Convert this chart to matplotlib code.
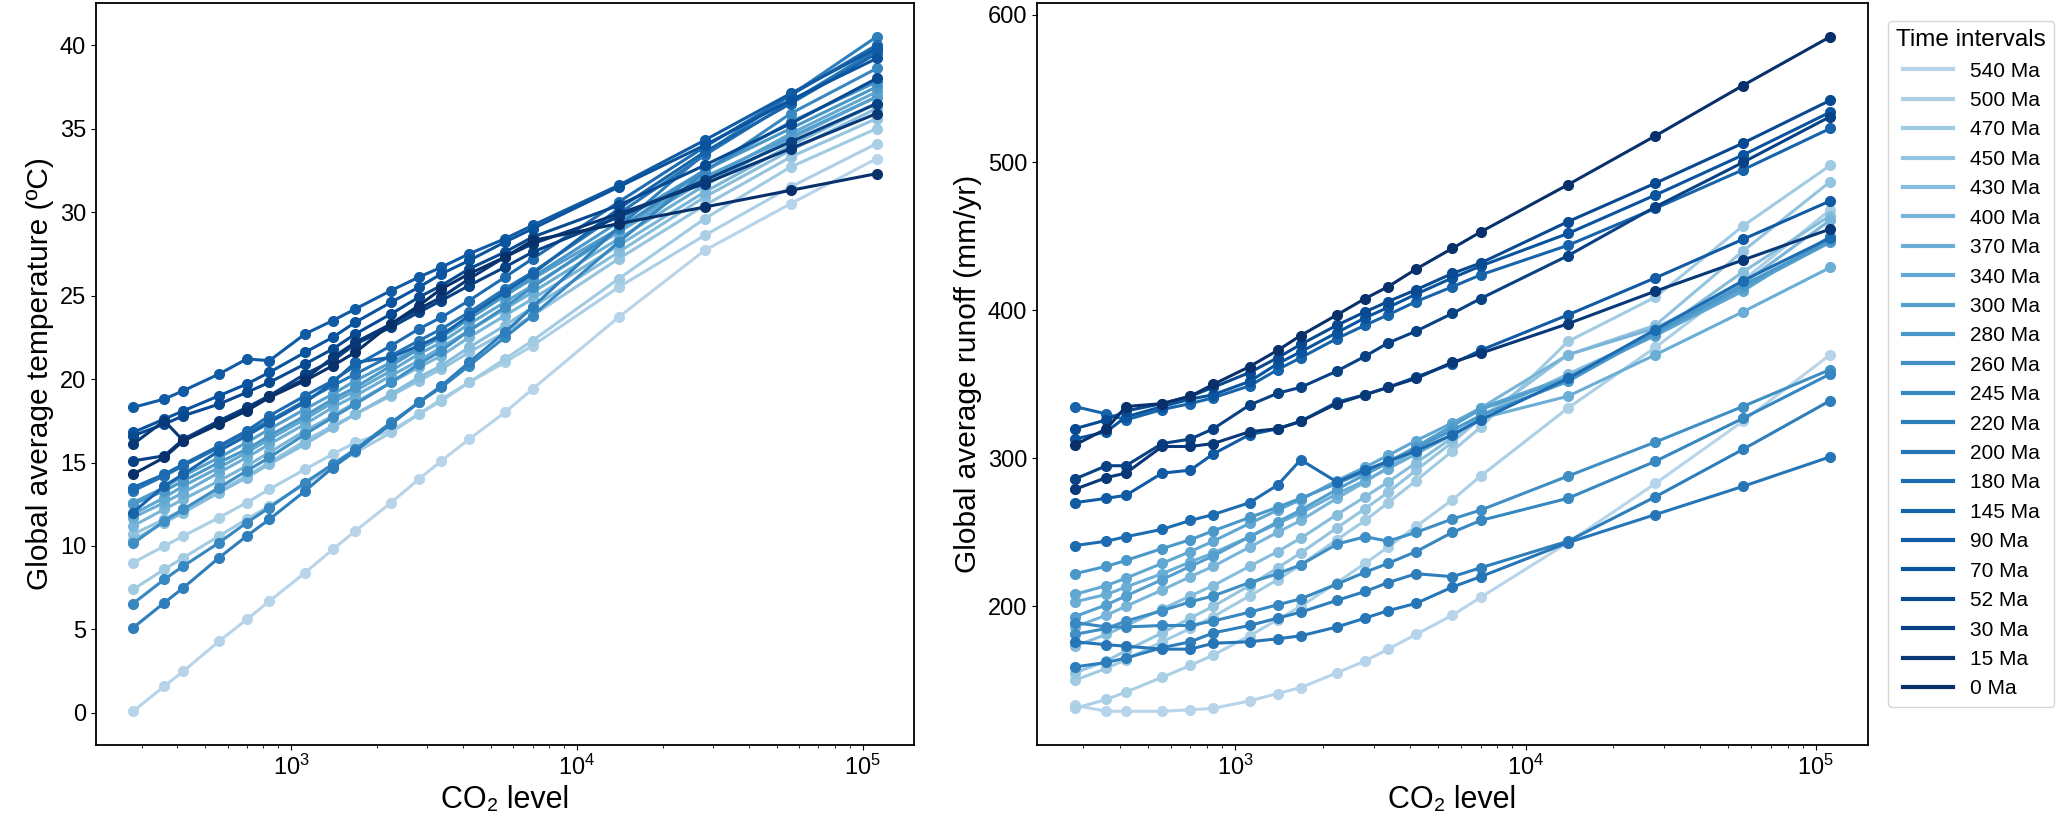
import matplotlib
matplotlib.use("Agg")
import matplotlib.pyplot as plt
from matplotlib.lines import Line2D
import numpy as np

plt.rcParams['font.family'] = ['Liberation Sans', 'DejaVu Sans']

co2 = [280, 360, 420, 560, 700, 840, 1120, 1400, 1680, 2240, 2800, 3360, 4200,
       5600, 7000, 14000, 28000, 56000, 112000]

ages = ["540 Ma", "500 Ma", "470 Ma", "450 Ma", "430 Ma", "400 Ma", "370 Ma", "340 Ma",
        "300 Ma", "280 Ma", "260 Ma", "245 Ma", "220 Ma", "200 Ma", "180 Ma", "145 Ma",
        "90 Ma", "70 Ma", "52 Ma", "30 Ma", "15 Ma", "0 Ma"]

# global average temperature (C), one row per time interval
temp = [
    [0.1, 1.6, 2.5, 4.3, 5.6, 6.7, 8.4, 9.8, 10.9, 12.6, 14.0, 15.1, 16.4, 18.0, 19.4, 23.7, 27.7, 30.5, 33.2],
    [9.0, 10.0, 10.6, 11.7, 12.6, 13.4, 14.6, 15.5, 16.2, 16.9, 17.9, 18.8, 19.8, 21.0, 22.0, 25.5, 28.6, 31.5, 34.1],
    [7.4, 8.6, 9.3, 10.6, 11.6, 12.4, 13.7, 14.8, 15.6, 16.8, 17.9, 18.7, 19.8, 21.2, 22.3, 26.0, 29.6, 32.7, 35.0],
    [10.7, 11.6, 12.2, 13.3, 14.2, 15.0, 16.3, 17.2, 17.9, 19.0, 19.9, 20.6, 21.6, 22.8, 23.8, 27.2, 30.4, 33.3, 35.6],
    [10.35, 11.4, 12.0, 13.2, 14.1, 14.9, 16.1, 17.1, 17.9, 19.1, 20.1, 20.8, 21.9, 23.2, 24.3, 27.6, 30.9, 33.7, 36.2],
    [11.2, 12.2, 12.8, 13.9, 14.8, 15.6, 16.9, 17.8, 18.6, 19.8, 20.7, 21.4, 22.5, 23.8, 24.8, 28.0, 31.2, 34.0, 36.5],
    [11.7, 12.6, 13.2, 14.4, 15.3, 16.1, 17.3, 18.3, 19.0, 20.2, 21.1, 21.9, 22.9, 24.2, 25.2, 28.4, 31.6, 34.4, 36.9],
    [11.9, 12.9, 13.6, 14.7, 15.6, 16.4, 17.6, 18.6, 19.3, 20.5, 21.5, 22.2, 23.3, 24.6, 25.6, 28.8, 31.9, 34.7, 37.2],
    [12.6, 13.5, 14.2, 15.3, 16.2, 17.0, 18.2, 19.1, 19.9, 21.0, 21.9, 22.7, 23.7, 25.0, 26.0, 29.0, 32.1, 34.5, 36.9],
    [12.5, 13.3, 13.9, 15.0, 15.8, 16.6, 17.8, 18.8, 19.5, 20.8, 21.8, 22.5, 23.6, 25.0, 26.1, 29.4, 32.5, 35.0, 37.5],
    [10.15, 11.5, 12.2, 13.5, 14.5, 15.3, 16.7, 17.7, 18.5, 19.8, 20.9, 21.7, 22.9, 24.3, 25.5, 29.0, 32.5, 35.4, 37.8],
    [6.55, 8.0, 8.8, 10.2, 11.4, 12.3, 13.8, 14.9, 15.8, 17.4, 18.6, 19.5, 20.8, 22.5, 23.8, 28.2, 32.4, 35.9, 38.6],
    [5.1, 6.6, 7.5, 9.3, 10.6, 11.6, 13.3, 14.7, 15.7, 17.3, 18.6, 19.6, 21.0, 22.8, 24.3, 29.1, 33.5, 37.0, 40.5],
    [13.3, 14.2, 14.8, 15.9, 16.8, 17.5, 18.7, 19.6, 20.3, 21.4, 22.3, 23.0, 24.0, 25.4, 26.4, 29.9, 33.4, 36.6, 39.7],
    [13.5, 14.3, 14.9, 16.0, 16.9, 17.8, 19.0, 19.9, 20.8, 22.0, 23.0, 23.7, 24.7, 26.1, 27.2, 30.6, 33.9, 37.0, 40.0],
    [12.0, 13.6, 14.3, 15.7, 16.6, 17.4, 18.6, 19.8, 21.0, 21.3, 22.0, 22.6, 23.8, 25.2, 26.3, 30.2, 33.6, 36.5, 39.5],
    [18.3, 18.8, 19.3, 20.3, 21.2, 21.1, 22.7, 23.5, 24.2, 25.3, 26.1, 26.7, 27.5, 28.4, 29.2, 31.6, 34.3, 37.1, 39.8],
    [16.8, 17.6, 18.1, 19.0, 19.7, 20.4, 21.6, 22.5, 23.4, 24.6, 25.5, 26.3, 27.1, 28.2, 29.0, 31.5, 34.0, 36.7, 39.2],
    [16.6, 17.3, 17.8, 18.5, 19.2, 19.8, 20.9, 21.8, 22.7, 23.9, 24.9, 25.6, 26.6, 27.6, 28.5, 30.4, 32.8, 35.3, 38.0],
    [15.1, 15.4, 16.4, 17.5, 18.3, 19.0, 20.3, 21.1, 22.1, 23.1, 24.0, 24.7, 25.6, 26.7, 27.6, 29.7, 31.9, 34.2, 36.5],
    [16.1, 17.5, 16.3, 17.4, 18.2, 19.0, 20.0, 21.3, 22.2, 23.3, 24.2, 24.9, 26.0, 27.3, 28.1, 29.9, 31.7, 33.8, 35.9],
    [14.3, 15.3, 16.3, 17.3, 18.1, 18.9, 19.9, 20.8, 21.6, 23.3, 24.4, 25.4, 26.3, 27.3, 28.3, 29.3, 30.3, 31.3, 32.3],
]

# global average runoff (mm/yr), one row per time interval
runoff = [
    [133, 129, 129, 129, 130, 131, 136, 141, 145, 155, 163, 171, 181, 194, 206, 243, 283, 325, 370],
    [131, 137, 142, 152, 160, 167, 180, 191, 200, 216, 229, 240, 254, 272, 288, 334, 375, 420, 468],
    [150, 158, 164, 176, 185, 193, 207, 218, 228, 245, 258, 270, 285, 305, 321, 379, 409, 457, 498],
    [155, 163, 170, 182, 192, 200, 214, 226, 236, 253, 266, 277, 292, 311, 327, 370, 390, 440, 487],
    [173, 181, 187, 198, 207, 214, 227, 237, 246, 262, 274, 284, 297, 314, 329, 357, 384, 426, 464],
    [186, 194, 200, 211, 220, 227, 240, 250, 258, 273, 284, 294, 306, 322, 334, 370, 388, 418, 461],
    [203, 208, 213, 222, 230, 236, 247, 256, 263, 276, 285, 293, 303, 316, 327, 342, 370, 399, 429],
    [208, 214, 219, 229, 237, 244, 256, 265, 272, 285, 294, 302, 312, 324, 334, 355, 383, 413, 450],
    [193, 201, 207, 218, 227, 234, 247, 257, 265, 279, 289, 297, 308, 322, 333, 354, 384, 415, 446],
    [222, 227, 231, 239, 245, 251, 260, 267, 273, 283, 291, 298, 307, 319, 329, 352, 385, 417, 447],
    [181, 185, 190, 197, 203, 207, 216, 222, 228, 242, 247, 244, 250, 259, 265, 288, 311, 335, 360],
    [189, 186, 186, 187, 187, 190, 196, 201, 205, 215, 223, 229, 237, 250, 258, 273, 298, 327, 357],
    [159, 162, 165, 172, 176, 182, 187, 192, 196, 204, 210, 216, 222, 220, 226, 244, 274, 306, 339],
    [176, 174, 173, 171, 171, 175, 176, 178, 180, 186, 192, 197, 202, 213, 220, 243, 262, 281, 301],
    [241, 244, 247, 252, 258, 262, 270, 282, 299, 284, 292, 298, 305, 316, 326, 354, 387, 420, 449],
    [335, 330, 326, 333, 337, 341, 349, 360, 368, 381, 390, 397, 406, 416, 424, 444, 469, 495, 523],
    [270, 273, 275, 290, 292, 303, 316, 320, 325, 338, 343, 348, 355, 364, 373, 397, 422, 448, 474],
    [313, 318, 328, 335, 340, 343, 352, 364, 372, 385, 395, 402, 411, 422, 430, 452, 478, 505, 534],
    [320, 326, 332, 337, 342, 348, 358, 368, 377, 390, 399, 406, 414, 425, 432, 460, 486, 513, 542],
    [286, 295, 295, 310, 313, 320, 336, 344, 348, 359, 369, 378, 386, 398, 408, 437, 470, 500, 531],
    [279, 287, 290, 308, 308, 310, 318, 320, 325, 337, 343, 348, 354, 365, 371, 391, 413, 434, 455],
    [309, 320, 335, 337, 342, 350, 362, 373, 383, 397, 408, 416, 428, 442, 453, 485, 518, 552, 585],
]

colors = plt.cm.Blues(np.linspace(0.3, 1.0, len(ages)))

fig = plt.figure(figsize=(20.67, 8.34), dpi=100)
ax1 = fig.add_axes([0.0464, 0.1067, 0.3957, 0.8897])
ax2 = fig.add_axes([0.5017, 0.1067, 0.4020, 0.8897])

for i in range(len(ages)):
    ax1.plot(co2, temp[i], "-o", color=colors[i], lw=2.2, ms=7)
    ax2.plot(co2, runoff[i], "-o", color=colors[i], lw=2.2, ms=7)

for ax in (ax1, ax2):
    ax.set_xscale("log")
    ax.set_xlabel("CO₂ level", fontsize=22)
    ax.tick_params(labelsize=17)
    for s in ax.spines.values():
        s.set_linewidth(1.3)

ax1.set_ylabel("Global average temperature (ºC)", fontsize=21.5)
ax2.set_ylabel("Global average runoff (mm/yr)", fontsize=21.5)
ax1.set_yticks([0, 5, 10, 15, 20, 25, 30, 35, 40])
ax2.set_yticks([200, 300, 400, 500, 600])

handles = [Line2D([0], [0], color=colors[i], lw=3) for i in range(len(ages))]
fig.legend(handles, ages, title="Time intervals", loc="upper left",
           bbox_to_anchor=(0.9134, 0.975), borderaxespad=0, fontsize=15,
           title_fontsize=17.5, handlelength=2.4)

fig.savefig("out.png", dpi=100)
